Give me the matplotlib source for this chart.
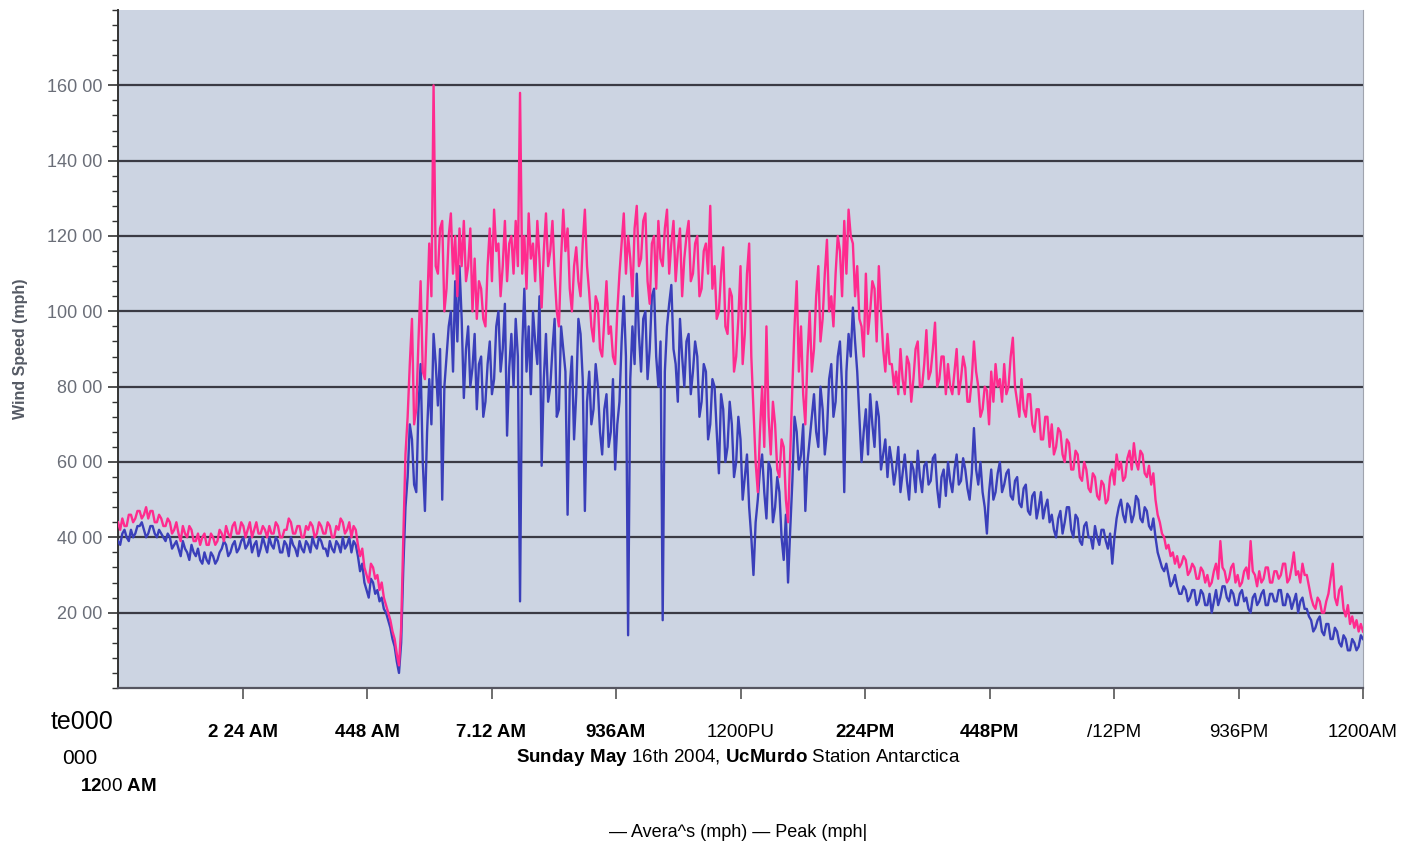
import numpy as np
import matplotlib
matplotlib.use("Agg")
import matplotlib.pyplot as plt
from matplotlib.ticker import MultipleLocator

plt.rcParams['font.family'] = ['Liberation Sans', 'DejaVu Sans']
plt.rcParams['mathtext.fontset'] = 'custom'
plt.rcParams['mathtext.rm'] = 'Liberation Sans'
plt.rcParams['mathtext.bf'] = 'Liberation Sans:bold'

# readings every 2.5 minutes, 12:00 AM to 12:00 AM (577 samples), one row per hour
average_mph = [
    39, 38, 41, 42, 40, 39, 42, 40, 41, 43, 43, 44, 42, 40, 41, 43, 43, 41, 40, 42, 41, 40, 39, 41,
    40, 37, 38, 39, 37, 35, 39, 37, 36, 34, 38, 36, 35, 37, 34, 33, 36, 34, 33, 36, 35, 33, 34, 36,
    37, 39, 38, 35, 36, 38, 39, 36, 37, 39, 40, 37, 38, 40, 36, 38, 39, 35, 37, 40, 38, 36, 40, 38,
    37, 40, 39, 36, 36, 39, 38, 35, 40, 38, 37, 35, 39, 37, 36, 39, 38, 36, 40, 38, 37, 40, 39, 37,
    37, 35, 39, 37, 36, 39, 38, 36, 40, 37, 38, 40, 36, 39, 38, 35, 31, 33, 28, 26, 24, 29, 28, 25,
    26, 23, 24, 21, 20, 18, 16, 13, 11, 7, 4, 12, 32, 48, 56, 70, 66, 54, 52, 74, 86, 60, 47, 68,
    82, 70, 94, 86, 75, 90, 50, 80, 88, 96, 100, 84, 108, 92, 112, 98, 77, 90, 96, 80, 85, 94, 74, 86,
    88, 72, 76, 86, 92, 78, 82, 96, 100, 84, 90, 102, 67, 85, 94, 80, 98, 88, 23, 90, 106, 84, 96, 78,
    100, 92, 86, 104, 59, 82, 94, 76, 80, 90, 98, 72, 74, 96, 90, 84, 46, 80, 88, 66, 78, 98, 94, 82,
    47, 76, 84, 70, 74, 86, 80, 68, 62, 74, 78, 64, 68, 82, 58, 70, 76, 92, 104, 88, 14, 82, 96, 86,
    110, 94, 84, 98, 100, 82, 90, 104, 106, 88, 80, 92, 18, 84, 96, 102, 107, 90, 86, 76, 98, 88, 80, 92,
    94, 78, 84, 92, 88, 72, 76, 86, 84, 66, 70, 82, 80, 68, 57, 78, 74, 60, 64, 76, 70, 56, 60, 72,
    66, 50, 56, 62, 48, 40, 30, 44, 50, 58, 62, 52, 45, 60, 58, 44, 48, 56, 52, 40, 34, 46, 28, 42,
    55, 72, 68, 58, 62, 70, 47, 60, 66, 72, 78, 68, 64, 80, 74, 62, 68, 82, 86, 72, 76, 88, 92, 80,
    52, 84, 94, 88, 101, 92, 84, 72, 60, 68, 74, 62, 78, 70, 64, 76, 72, 58, 62, 66, 56, 64, 60, 54,
    58, 64, 52, 57, 62, 55, 50, 60, 58, 52, 63, 56, 52, 59, 60, 54, 55, 61, 62, 53, 48, 56, 58, 51,
    60, 55, 52, 58, 62, 54, 55, 61, 58, 53, 50, 57, 69, 58, 54, 60, 52, 48, 41, 52, 58, 50, 52, 57,
    60, 52, 54, 57, 58, 51, 50, 55, 56, 49, 48, 53, 54, 47, 46, 51, 52, 45, 48, 52, 45, 48, 50, 44,
    46, 42, 40, 45, 47, 41, 44, 48, 48, 42, 40, 46, 45, 39, 38, 43, 44, 40, 40, 37, 43, 40, 38, 42,
    42, 39, 37, 41, 33, 40, 45, 48, 50, 46, 44, 49, 48, 44, 46, 51, 50, 45, 44, 48, 47, 43, 42, 45,
    40, 36, 34, 32, 31, 33, 30, 27, 28, 30, 27, 25, 25, 27, 26, 23, 24, 26, 26, 22, 23, 26, 25, 22,
    22, 25, 20, 23, 26, 22, 24, 27, 27, 24, 23, 26, 25, 22, 22, 25, 26, 23, 24, 21, 20, 24, 25, 22,
    23, 25, 26, 22, 22, 25, 25, 23, 23, 26, 26, 22, 22, 25, 24, 21, 23, 25, 20, 23, 24, 21, 21, 19,
    18, 15, 16, 18, 19, 15, 14, 17, 17, 13, 13, 16, 15, 12, 11, 14, 13, 10, 10, 13, 12, 10, 11, 14,
    13,
]

peak_mph = [
    44, 42, 45, 43, 43, 46, 46, 44, 45, 47, 47, 45, 46, 48, 45, 47, 47, 44, 44, 46, 45, 43, 43, 45,
    44, 41, 42, 44, 41, 39, 43, 41, 40, 43, 42, 39, 39, 41, 38, 40, 41, 38, 38, 41, 40, 38, 39, 42,
    41, 39, 43, 41, 40, 43, 44, 41, 41, 44, 43, 40, 42, 44, 40, 42, 44, 41, 41, 43, 42, 40, 43, 41,
    41, 44, 43, 40, 40, 42, 42, 45, 44, 41, 41, 43, 43, 40, 40, 43, 42, 44, 43, 40, 41, 44, 43, 41,
    41, 44, 43, 40, 40, 43, 42, 45, 44, 41, 42, 44, 40, 43, 42, 38, 35, 37, 32, 30, 28, 33, 32, 29,
    30, 26, 28, 24, 22, 20, 18, 15, 13, 9, 6, 16, 40, 62, 72, 86, 98, 70, 74, 92, 108, 84, 82, 100,
    118, 104, 160, 112, 110, 122, 124, 100, 106, 120, 126, 110, 120, 104, 122, 112, 124, 108, 112, 122, 100, 114, 98, 108,
    106, 98, 96, 112, 122, 108, 127, 116, 118, 104, 112, 124, 108, 118, 120, 110, 124, 112, 158, 110, 120, 106, 126, 114,
    118, 108, 124, 114, 101, 116, 126, 112, 116, 124, 110, 100, 96, 114, 127, 116, 122, 106, 100, 112, 117, 108, 104, 118,
    127, 112, 105, 96, 92, 104, 102, 90, 88, 98, 108, 94, 96, 88, 86, 100, 110, 118, 126, 110, 120, 114, 104, 122,
    128, 112, 114, 124, 126, 108, 102, 118, 120, 106, 124, 114, 112, 122, 127, 110, 118, 124, 108, 116, 122, 104, 114, 120,
    124, 108, 110, 118, 120, 104, 106, 116, 118, 110, 128, 106, 112, 98, 100, 110, 117, 96, 94, 106, 104, 84, 88, 98,
    112, 86, 94, 110, 118, 88, 74, 60, 52, 68, 80, 64, 96, 72, 62, 76, 70, 58, 56, 66, 64, 50, 44, 62,
    80, 96, 108, 84, 96, 78, 70, 88, 100, 84, 90, 104, 112, 92, 98, 110, 119, 100, 104, 96, 110, 120, 116, 104,
    124, 110, 127, 120, 118, 104, 112, 98, 96, 88, 110, 94, 100, 108, 106, 92, 112, 100, 90, 84, 94, 86, 86, 80,
    84, 78, 90, 82, 78, 88, 86, 76, 82, 90, 92, 80, 80, 86, 95, 82, 84, 90, 97, 80, 82, 88, 88, 78,
    86, 80, 78, 84, 90, 78, 82, 88, 85, 76, 76, 82, 92, 84, 80, 72, 74, 80, 79, 70, 84, 76, 86, 80,
    82, 76, 86, 78, 80, 88, 93, 80, 76, 72, 82, 74, 72, 78, 78, 70, 68, 74, 74, 66, 66, 72, 72, 64,
    70, 62, 64, 69, 68, 62, 60, 66, 65, 58, 58, 63, 62, 56, 55, 60, 58, 53, 52, 57, 56, 51, 50, 55,
    54, 49, 50, 56, 58, 54, 62, 58, 60, 55, 56, 61, 63, 58, 65, 60, 58, 63, 62, 57, 56, 59, 54, 57,
    50, 46, 44, 41, 40, 37, 38, 35, 36, 33, 35, 32, 33, 35, 34, 30, 31, 33, 32, 29, 29, 32, 31, 28,
    30, 27, 28, 31, 33, 29, 39, 32, 31, 28, 29, 32, 33, 28, 30, 27, 28, 31, 32, 29, 39, 31, 30, 27,
    31, 28, 29, 32, 32, 28, 28, 31, 31, 29, 30, 33, 33, 28, 29, 32, 36, 30, 31, 28, 33, 30, 30, 27,
    24, 22, 21, 24, 23, 20, 20, 23, 25, 29, 33, 24, 22, 26, 27, 21, 19, 22, 17, 19, 16, 18, 15, 17,
    15,
]

hours = np.arange(len(average_mph)) * 2.5 / 60.0

tick_hours = [2.4, 4.8, 7.2, 9.6, 12.0, 14.4, 16.8, 19.2, 21.6, 24.0]
tick_labels = ["2 24 AM", "448 AM", "7.12 AM", "936AM", "1200PU",
               "224PM", "448PM", "/12PM", "936PM", "1200AM"]
tick_bold = [True, True, True, True, False, True, True, False, False, False]

y_ticks = [20, 40, 60, 80, 100, 120, 140, 160]
y_labels = ["20 00", "40 00", "60 00", "80 00", "100 00", "120 00", "140 00", "160 00"]

fig = plt.figure(figsize=(14.01, 8.46), dpi=100)
ax = fig.add_axes([118 / 1401, 158 / 846, 1245 / 1401, 678 / 846])
ax.set_facecolor("#ccd4e2")

ax.plot(hours, average_mph, color="#3a3fba", lw=1.7, zorder=3)
ax.plot(hours, peak_mph, color="#ff2b8e", lw=1.7, zorder=4)

ax.set_xlim(0, 24)
ax.set_ylim(0, 180)

for y in y_ticks:
    ax.axhline(y, color="#3a3a44", lw=1.6, zorder=2)

ax.set_yticks(y_ticks)
ax.set_yticklabels(y_labels, color="#6a6e78", fontsize=13)
ax.yaxis.set_minor_locator(MultipleLocator(4))
ax.tick_params(axis="y", which="major", length=7, width=1.2, color="#333333", pad=4)
ax.tick_params(axis="y", which="minor", length=4, width=1.0, color="#333333")

ax.set_xticks(tick_hours)
ax.set_xticklabels(tick_labels, fontsize=13.5, color="black")
for lab, b in zip(ax.get_xticklabels(), tick_bold):
    lab.set_fontweight("bold" if b else "normal")
ax.tick_params(axis="x", which="major", length=8, width=1.2, color="#555555", pad=18)

ax.spines["top"].set_visible(False)
ax.spines["right"].set_color("#a0a4ae")
ax.spines["right"].set_linewidth(0.8)
ax.spines["left"].set_color("#333333")
ax.spines["left"].set_linewidth(1.4)
ax.spines["bottom"].set_color("#555560")
ax.spines["bottom"].set_linewidth(1.6)

ax.set_ylabel("Wind Speed (mph)", fontsize=11.5, fontweight="bold", color="#555a64")
ax.yaxis.set_label_coords(-0.072, 0.5)

# first tick label as it appears in the scan
fig.text(82 / 1401, 1 - 722 / 846, "te000", fontsize=18, ha="center", va="center")
fig.text(80 / 1401, 1 - 758 / 846, "000", fontsize=15, ha="center", va="center")
fig.text(118 / 1401, 1 - 786 / 846, r"$\bf{12}$00 $\bf{AM}$", fontsize=13.5, ha="center", va="center")

fig.text(738 / 1401, 1 - 757 / 846,
         r"$\bf{Sunday\ May}$ 16th 2004, $\bf{UcMurdo}$ Station Antarctica",
         fontsize=13.5, ha="center", va="center")

fig.text(738 / 1401, 1 - 832 / 846, "\u2014 Avera^s (mph) \u2014 Peak (mph|",
         fontsize=13, ha="center", va="center")

fig.savefig("out.png", dpi=100, facecolor="white")
